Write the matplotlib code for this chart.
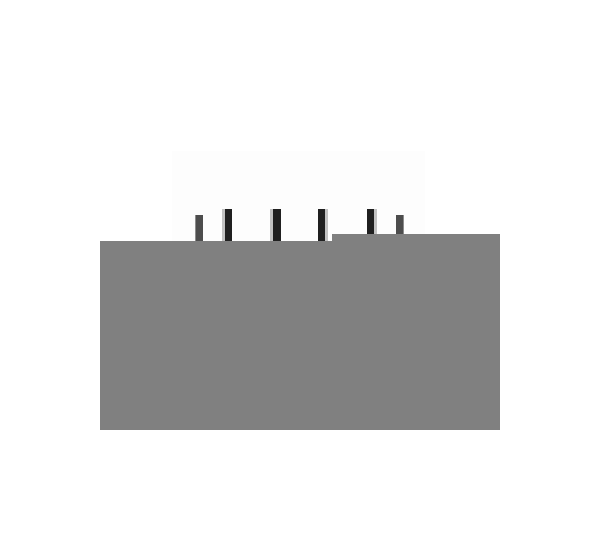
import numpy as np
import matplotlib
matplotlib.use('Agg')
import matplotlib.pyplot as plt

# base blocks (left edge, width, height)
base_left = [0.0, 5.8]
base_width = [5.8, 4.2]
base_height = [9.48, 9.83]

# posts behind the base
post_center = [2.475, 3.175, 4.3875, 5.575, 6.8, 7.5]
post_width = [0.2, 0.26, 0.27, 0.26, 0.26, 0.2]
post_height = [10.79, 11.09, 11.09, 11.09, 11.09, 10.79]

# faint back panel
panel_left = 1.8
panel_right = 8.125
panel_top = 14.0

fig = plt.figure(figsize=(6, 5.6), dpi=100)
ax = fig.add_axes([100/600, 130/560, 400/600, 279/560])

ax.bar(panel_left, panel_top, width=panel_right - panel_left, align='edge',
       color='#fdfdfd', zorder=0)

for i in range(len(post_center)):
    c = post_center[i]
    w = post_width[i]
    h = post_height[i]
    outer = (i == 0 or i == len(post_center) - 1)
    dark = '#4d4d4d' if outer else '#202020'
    light = '#8c8c8c' if outer else '#c2c2c2'
    frac = 0.15 if outer else 0.3
    if c < 5.0:
        # light face on the left
        ax.bar(c - w/2, h, width=w*frac, align='edge', color=light, zorder=1)
        ax.bar(c - w/2 + w*frac, h, width=w*(1-frac), align='edge', color=dark, zorder=1)
    else:
        ax.bar(c - w/2, h, width=w*(1-frac), align='edge', color=dark, zorder=1)
        ax.bar(c + w/2 - w*frac, h, width=w*frac, align='edge', color=light, zorder=1)

ax.bar(base_left, base_height, width=base_width, align='edge',
       color='#808080', zorder=2)

ax.set_xlim(0, 10)
ax.set_ylim(0, 14)
ax.axis('off')

fig.savefig('out.png', dpi=100)
